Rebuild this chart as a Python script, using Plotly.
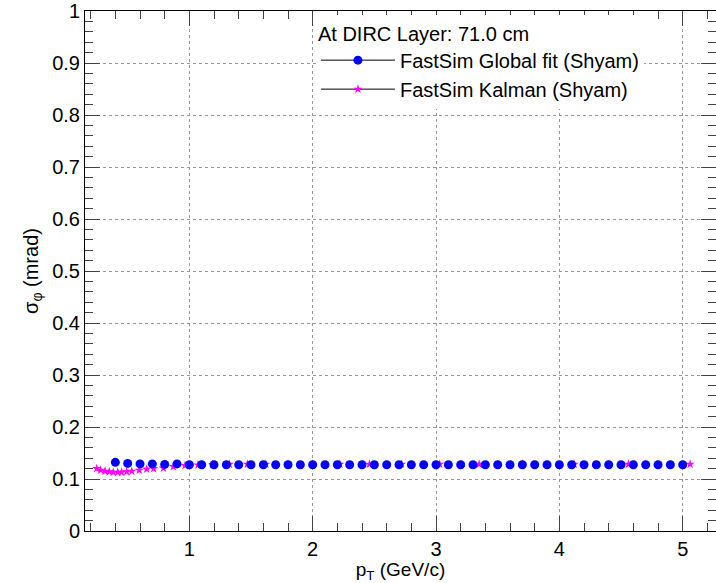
import plotly.graph_objects as go

# ---- data ----
global_pt = [round(0.4 + 0.1 * i, 1) for i in range(47)]  # 0.4 .. 5.0 GeV/c (bin centres)
global_sigma = [0.132, 0.130, 0.129, 0.129, 0.128, 0.129] + [0.1275] * 41

kalman_pt = [0.249, 0.281, 0.316, 0.351, 0.383, 0.419, 0.451, 0.492, 0.533, 0.594,
             0.654, 0.71, 0.79, 0.87, 0.965, 1.07, 1.19, 1.325, 1.47, 1.62,
             1.80, 2.00, 2.22, 2.46, 2.72, 3.03, 3.35, 3.70, 4.12, 4.56, 5.06]
kalman_sigma = [0.120, 0.117, 0.115, 0.114, 0.113, 0.113, 0.113, 0.114, 0.115, 0.117,
                0.119, 0.120, 0.121, 0.124, 0.126, 0.127, 0.128, 0.1285, 0.1285, 0.1285,
                0.1285, 0.1285, 0.1285, 0.1285, 0.1285, 0.1285, 0.1285, 0.1285, 0.1285, 0.1285, 0.1285]

legend_title = "At DIRC Layer: 71.0 cm"
name_global = "FastSim Global fit (Shyam)"
name_kalman = "FastSim Kalman (Shyam)"

FONT = "Liberation Sans, Arial, Helvetica, sans-serif"
FS = 20

fig = go.Figure()

# data markers
fig.add_trace(go.Scatter(x=kalman_pt, y=kalman_sigma, mode="markers",
                         marker=dict(symbol="star", size=7, color="#ff00ff"),
                         showlegend=False, name=name_kalman))
fig.add_trace(go.Scatter(x=global_pt, y=global_sigma, mode="markers",
                         marker=dict(symbol="circle", size=9, color="#0000ff"),
                         showlegend=False, name=name_global))

# legend entries (ROOT "LP" style: line + marker)
fig.add_trace(go.Scatter(x=[None], y=[None], mode="lines+markers", name=name_global,
                         line=dict(color="black", width=1),
                         marker=dict(symbol="circle", size=9, color="#0000ff")))
fig.add_trace(go.Scatter(x=[None], y=[None], mode="lines+markers", name=name_kalman,
                         line=dict(color="black", width=1),
                         marker=dict(symbol="star", size=7, color="#ff00ff")))

axis_common = dict(
    showline=True, linecolor="black", linewidth=1, mirror="allticks",
    ticks="inside", tickcolor="#444", tickwidth=1, ticklen=15,
    showgrid=True, gridcolor="#999", griddash="dot", gridwidth=1,
    zeroline=False,
    tickfont=dict(family=FONT, size=FS, color="black"),
)

fig.update_xaxes(**axis_common, range=[0.154, 5.27], dtick=1, tick0=0,
                 minor=dict(ticks="inside", ticklen=8, dtick=0.2, tick0=0, tickcolor="#444", showgrid=False),
                 title=dict(text="p<sub>T</sub> (GeV/c)", font=dict(family=FONT, size=19, color="black"), standoff=7))
fig.update_yaxes(**axis_common, range=[0, 1], dtick=0.1, tick0=0,
                 minor=dict(ticks="inside", ticklen=8, dtick=0.02, tick0=0, tickcolor="#444", showgrid=False),
                 tickformat="~g",
                 title=dict(text="σ<sub>φ</sub> (mrad)", font=dict(family=FONT, size=FS, color="black"), standoff=8))

fig.update_layout(
    width=716, height=583,
    margin=dict(l=85, r=0, t=11, b=52),
    plot_bgcolor="white", paper_bgcolor="white",
    font=dict(family=FONT, size=FS, color="black"),
    legend=dict(x=0.366, y=0.993, xanchor="left", yanchor="top",
                bgcolor="white", borderwidth=0,
                title=dict(text=legend_title, font=dict(family=FONT, size=FS)),
                font=dict(family=FONT, size=FS), itemwidth=74),
)

fig.write_html("out.html")
